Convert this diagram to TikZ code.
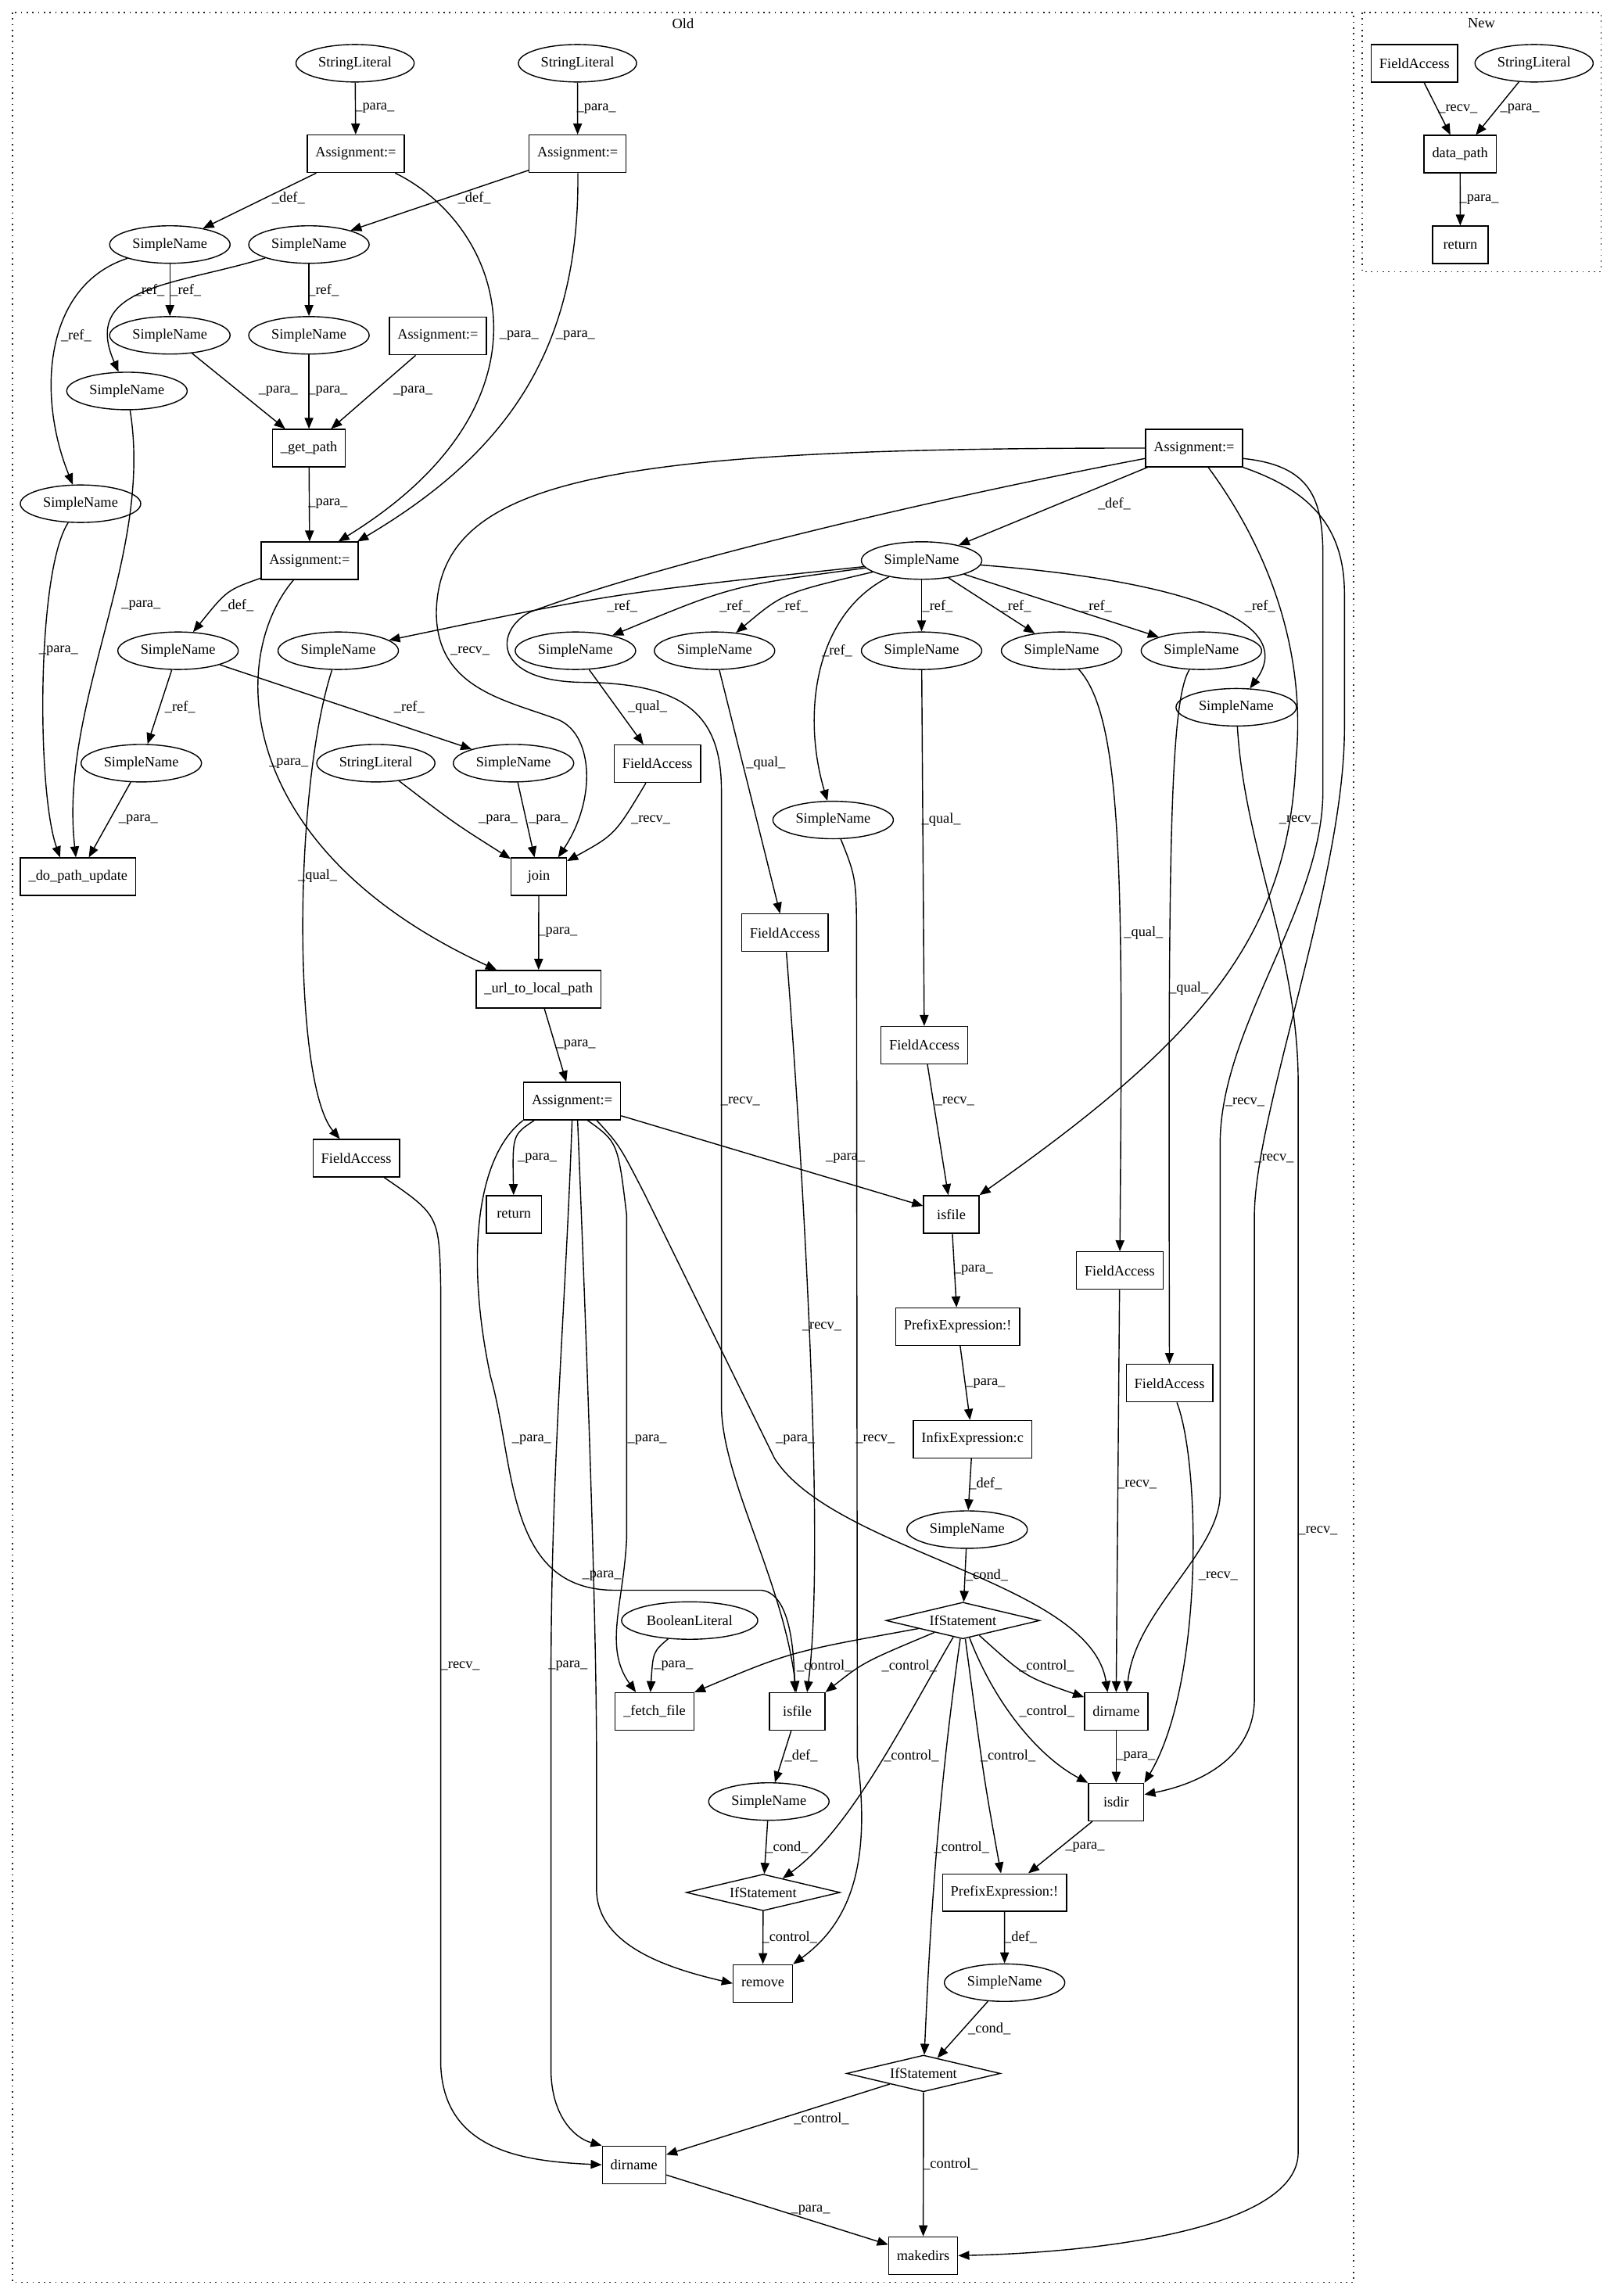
\documentclass[tikz,border=0pt]{standalone}
\usepackage{fontspec}
\setmainfont{Liberation Serif}
\usetikzlibrary{arrows.meta,shapes.geometric}
\newcommand\Lpara{\_para\_}
\newcommand\Lref{\_ref\_}
\newcommand\Ldef{\_def\_}
\newcommand\Lqual{\_qual\_}
\newcommand\Lrecv{\_recv\_}
\newcommand\Lcond{\_cond\_}
\newcommand\Lctrl{\_control\_}
\newcommand\elab[3]{\node[lbl] (#1) at (#2) {#3};}
\begin{document}
\begin{tikzpicture}[x=1pt,y=-1pt,
  font=\fontsize{9.8}{11.8}\selectfont,
  box/.style={draw, rectangle, line width=0.75pt, minimum height=25.6pt, minimum width=37.8pt, inner xsep=5.6pt, inner ysep=0pt},
  ell/.style={draw, ellipse, line width=0.75pt, minimum height=25.6pt, inner xsep=3.5pt, inner ysep=0pt},
  dia/.style={draw, diamond, aspect=4.2, line width=0.75pt, inner sep=0pt, minimum width=105pt, minimum height=25pt},
  arr/.style={draw, line width=0.75pt, -{Triangle[length=7.5pt,width=6pt]}},
  lbl/.style={inner sep=0pt},
  clus/.style={draw=black!85, line width=0.9pt, dash pattern=on 0.9pt off 3pt}]
\useasboundingbox (0,0) rectangle (1102,1568);
\fill[white] (0,0) rectangle (1102,1568);
% clusters
\draw[clus] (8.5,8.5) rectangle (924.5,1558.7);
\draw[clus] (930.2,8.5) rectangle (1093.4,185.6);
\node[lbl] (oldlab) at (466.5,16) {Old};
\node[lbl] (newlab) at (1011.8,16) {New};
% ---------- Old nodes
\node[ell] (sl1) at (242.5,43.2) {StringLiteral};
\node[ell] (sl2) at (394.4,43.2) {StringLiteral};
\node[box] (a1) at (243,105) {Assignment:=};
\node[box] (a2) at (394.5,105) {Assignment:=};
\node[ell] (s1) at (116,167) {SimpleName};
\node[ell] (s2) at (211,167) {SimpleName};
\node[ell] (s3) at (116,229) {SimpleName};
\node[ell] (s4) at (211,229) {SimpleName};
\node[box] (a3) at (299,229.5) {Assignment:=};
\node[ell] (s5) at (86.7,267) {SimpleName};
\node[ell] (s6) at (55,344) {SimpleName};
\node[box] (gp) at (211,306) {\_get\_path};
\node[box] (a4) at (211.5,383) {Assignment:=};
\node[box] (a5) at (815.5,306) {Assignment:=};
\node[ell] (sn) at (629.4,382.8) {SimpleName};
\node[ell] (s7) at (121.6,444.4) {SimpleName};
\node[ell] (sb) at (231,444.4) {SimpleName};
\node[ell] (sa) at (393,444.4) {SimpleName};
\node[ell] (sc) at (488,444.4) {SimpleName};
\node[ell] (sd) at (629.4,444.4) {SimpleName};
\node[ell] (se) at (725,444.4) {SimpleName};
\node[ell] (sg) at (820.5,444.4) {SimpleName};
\node[ell] (sh) at (844.3,483) {SimpleName};
\node[ell] (sf) at (569,560) {SimpleName};
\node[ell] (s8) at (96.5,521.2) {SimpleName};
\node[ell] (s9) at (350.7,521.2) {SimpleName};
\node[ell] (sl3) at (256.7,521.2) {StringLiteral};
\node[box] (f1) at (449,521.6) {FieldAccess};
\node[box] (dpu) at (53.3,598.7) {\_do\_path\_update};
\node[box] (join) at (368,598.7) {join};
\node[box] (f2) at (536,637) {FieldAccess};
\node[box] (url) at (367.8,675.5) {\_url\_to\_local\_path};
\node[box] (f3) at (631.3,713.8) {FieldAccess};
\node[box] (a6) at (390.7,752) {Assignment:=};
\node[box] (f4) at (243.3,791) {FieldAccess};
\node[box] (ret) at (351,829.3) {return};
\node[box] (i1) at (649.7,829.3) {isfile};
\node[box] (f5) at (764.7,867.7) {FieldAccess};
\node[box] (p1) at (654,906) {PrefixExpression:!};
\node[box] (f6) at (798.7,944.6) {FieldAccess};
\node[box] (inf) at (664.2,982.9) {InfixExpression:c};
\node[ell] (sn2) at (660.5,1044.6) {SimpleName};
\node[dia] (if1) at (657.6,1106.7) {IfStatement};
\node[ell] (bl) at (471,1106.7) {BooleanLiteral};
\node[box] (ff) at (447,1168.8) {\_fetch\_file};
\node[box] (i2) at (544.5,1168.8) {isfile};
\node[box] (d1) at (762.3,1168.8) {dirname};
\node[box] (isdir) at (762.3,1230.7) {isdir};
\node[ell] (sn3) at (525.1,1230.3) {SimpleName};
\node[dia] (if2) at (521.2,1292.4) {IfStatement};
\node[box] (p2) at (686,1292.5) {PrefixExpression:!};
\node[box] (rem) at (521,1354.5) {remove};
\node[ell] (sn4) at (686.1,1354) {SimpleName};
\node[dia] (if3) at (630.7,1416) {IfStatement};
\node[box] (d2) at (433,1478.4) {dirname};
\node[box] (mk) at (630.5,1540.4) {makedirs};
% ---------- New nodes
\node[box] (nfa) at (966,43.3) {FieldAccess};
\node[ell] (nsl) at (1047.7,43.2) {StringLiteral};
\node[box] (dp) at (997.2,105.3) {data\_path};
\node[box] (nret) at (997.3,167.2) {return};
% ---------- Old edges
\draw[arr] (sl1) -- (a1);
\draw[arr] (sl2) -- (a2);
\draw[arr] (a1) -- (s1);
\draw[arr] (a2) -- (s2);
\draw[arr] (a1) .. controls (345,155) and (385,275) .. (a4.34);
\draw[arr] (a2) .. controls (396,240) and (345,310) .. (a4.22);
\draw[arr] (s1) -- (s3);
\draw[arr] (s2) .. controls (120,195) and (55,195) .. (s5);
\draw[arr] (s1) .. controls (30,195) and (25,270) .. (s6);
\draw[arr] (s2) -- (s4);
\draw[arr] (s3) -- (gp);
\draw[arr] (s4) -- (gp);
\draw[arr] (a3) -- (gp);
\draw[arr] (gp) -- (a4);
\draw[arr] (a4) .. controls (155,403) .. (s7);
\draw[arr] (a4) .. controls (155,450) and (160,580) .. (url);
\draw[arr] (s7) -- (s8);
\draw[arr] (s7) -- (s9);
\draw[arr] (s5) .. controls (105,380) and (40,480) .. (dpu);
\draw[arr] (s6) .. controls (25,390) and (25,540) .. (dpu.133);
\draw[arr] (s8) -- (dpu);
\draw[arr] (sl3) .. controls (310,562) .. (join);
\draw[arr] (s9) -- (join);
\draw[arr] (a5.west) .. controls (420,306) and (300,325) .. (298,418)
   .. controls (298,470) and (345,478) .. (380,491)
   .. controls (405,500) and (408,545) .. (join.45);
\draw[arr] (f1) .. controls (420,570) .. (join);
\draw[arr] (join) -- (url);
\draw[arr] (url) -- (a6);
\draw[arr] (a5) -- (sn);
\draw[arr] (sn) .. controls (420,405) .. (sb);
\draw[arr] (sn) .. controls (500,400) .. (sa);
\draw[arr] (sn) .. controls (535,405) .. (sc);
\draw[arr] (sn) .. controls (555,420) and (548,490) .. (sf);
\draw[arr] (sn) -- (sd);
\draw[arr] (sn) -- (se);
\draw[arr] (sn) -- (sg);
\draw[arr] (sn) .. controls (790,395) and (890,420) .. (sh);
\draw[arr] (sa) -- (f1);
\draw[arr] (sb) .. controls (200,540) and (200,740) .. (f4);
\draw[arr] (sc) -- (f2);
\draw[arr] (sd) -- (f3);
\draw[arr] (se) .. controls (767,490) and (767,600) .. (f5);
\draw[arr] (sg) .. controls (798,480) and (798,600) .. (f6);
\draw[arr] (f2) .. controls (545,750) and (565,1050) .. (i2.63);
\draw[arr] (f3) -- (i1);
\draw[arr] (f4) .. controls (300,830) .. (301,880) -- (301,1410) .. controls (303,1470) and (360,1476) .. (d2.west);
\draw[arr] (f5) -- (d1.north);
\draw[arr] (f6) .. controls (820,1000) and (822,1150) .. (isdir.north east);
\draw[arr] (a5) .. controls (870,380) and (892,450) .. (885,520) .. controls (880,640) and (820,710) .. (i1.north east);
\draw[arr] (a5.-12) .. controls (895,318) and (903.5,340) .. (903.5,380) -- (903.5,540)
   .. controls (903.5,620) and (834,700) .. (833.3,780) -- (833.3,1020)
   .. controls (833.3,1060) and (775,1100) .. (d1.61);
\draw[arr] (a5.south east) .. controls (895,335) and (918,360) .. (918.2,405) -- (918.2,498)
   .. controls (918,600) and (857,760) .. (856.7,830) -- (856.7,1160)
   .. controls (856.7,1200) and (820,1218) .. (isdir.15);
\draw[arr] (sh) .. controls (850,580) and (886.6,650) .. (886.6,740) -- (886.6,1470)
   .. controls (886.6,1520) and (760,1538) .. (mk.east);
\draw[arr] (a5.192) .. controls (640,340) and (450,385) .. (362,418)
   .. controls (338,430) and (335,466) .. (400,466)
   .. controls (470,467) and (492.7,490) .. (492.7,540) -- (492.7,960)
   .. controls (493,1010) and (535,1080) .. (i2.93);
\draw[arr] (i1) -- (p1);
\draw[arr] (p1) -- (inf);
\draw[arr] (inf) -- (sn2);
\draw[arr] (sn2) -- (if1);
\draw[arr] (a6.207) .. controls (350,775) .. (ret);
\draw[arr] (a6) -- (i1);
\draw[arr] (a6.south west) .. controls (325,790) and (318,860) .. (335,940)
   .. controls (352,1000) and (345,1086) .. (420,1086) -- (520,1086)
   .. controls (538,1088) and (542,1120) .. (i2.97);
\draw[arr] (a6.-51) .. controls (422,780) .. (428,830) -- (428,1050)
   .. controls (426,1095) and (412,1125) .. (ff.134);
\draw[arr] (a6.-74) .. controls (400,900) and (407.4,1100) .. (407.4,1200) -- (407.4,1290)
   .. controls (407.4,1330) and (460,1345) .. (rem.west);
\draw[arr] (a6.-38) .. controls (423,782) .. (440,815) -- (529,996)
   .. controls (570,1060) and (745,1080) .. (d1.114);
\draw[arr] (a6.south) .. controls (386,900) and (376.3,1000) .. (376.3,1150) -- (376.3,1415)
   .. controls (377,1445) and (392,1460) .. (d2.north west);
\draw[arr] (bl) .. controls (446,1128) .. (ff.102);
\draw[arr] (if1) .. controls (540,1128) .. (ff.north east);
\draw[arr] (if1) .. controls (590,1135) .. (i2.north east);
\draw[arr] (if1) .. controls (700,1145) .. (d1.156);
\draw[arr] (if1) .. controls (680,1165) and (710,1200) .. (isdir.north west);
\draw[arr] (if1) .. controls (615,1180) and (580,1250) .. (if2);
\draw[arr] (if1) .. controls (640,1230) and (635,1320) .. (if3);
\draw[arr] (if1) .. controls (672,1215) .. (p2);
\draw[arr] (d1) -- (isdir);
\draw[arr] (i2) -- (sn3);
\draw[arr] (sn3) -- (if2);
\draw[arr] (if2) -- (rem);
\draw[arr] (sf) .. controls (585,600) .. (585,650) -- (585.5,1200)
   .. controls (594,1265) and (585,1310) .. (rem.north east);
\draw[arr] (isdir) -- (p2);
\draw[arr] (p2) -- (sn4);
\draw[arr] (sn4) -- (if3);
\draw[arr] (if3) -- (d2);
\draw[arr] (if3) -- (mk);
\draw[arr] (d2) -- (mk);
% ---------- New edges
\draw[arr] (nfa) -- (dp);
\draw[arr] (nsl) -- (dp);
\draw[arr] (dp) -- (nret);
% ---------- labels
\elab{e1}{256,74}{\Lpara}
\elab{e2}{407.3,74.3}{\Lpara}
\elab{e3}{197,135}{\Ldef}
\elab{e4}{324,135}{\Ldef}
\elab{e5}{354.5,229}{\Lpara}
\elab{e6}{393,229}{\Lpara}
\elab{e7}{127,198}{\Lref}
\elab{e8}{102,198}{\Lref}
\elab{e9}{52,229}{\Lref}
\elab{e10}{221,198}{\Lref}
\elab{e11}{190,267}{\Lpara}
\elab{e12}{224,267}{\Lpara}
\elab{e13}{282,267}{\Lpara}
\elab{e14}{224,344}{\Lpara}
\elab{e15}{162,413.3}{\Ldef}
\elab{e16}{197.2,521.2}{\Lpara}
\elab{e17}{123,483}{\Lref}
\elab{e18}{279.5,483}{\Lref}
\elab{e19}{96.3,413.3}{\Lpara}
\elab{e20}{40,444.4}{\Lpara}
\elab{e21}{94.5,560}{\Lpara}
\elab{e22}{340.3,560}{\Lpara}
\elab{e23}{374.5,560}{\Lpara}
\elab{e24}{321,444.4}{\Lrecv}
\elab{e25}{444.4,560}{\Lrecv}
\elab{e26}{381,636.9}{\Lpara}
\elab{e27}{393.4,713.5}{\Lpara}
\elab{e28}{761,344.2}{\Ldef}
\elab{e29}{425,413.8}{\Lref}
\elab{e30}{501.8,413.8}{\Lref}
\elab{e31}{541.4,413.8}{\Lref}
\elab{e32}{571.7,444.4}{\Lref}
\elab{e33}{640.3,413.8}{\Lref}
\elab{e34}{693.8,413.8}{\Lref}
\elab{e35}{749,413.8}{\Lref}
\elab{e36}{860.5,413.8}{\Lref}
\elab{e37}{442.3,483}{\Lqual}
\elab{e38}{216.9,598.3}{\Lqual}
\elab{e39}{523,521.2}{\Lqual}
\elab{e40}{642.8,560}{\Lqual}
\elab{e41}{781,637}{\Lqual}
\elab{e42}{811.9,675.2}{\Lqual}
\elab{e43}{561.3,905.9}{\Lrecv}
\elab{e44}{652,752}{\Lrecv}
\elab{e45}{314.4,1137.5}{\Lrecv}
\elab{e46}{776.6,1014}{\Lrecv}
\elab{e47}{832,1076.2}{\Lrecv}
\elab{e48}{887,560}{\Lrecv}
\elab{e49}{850.2,752.7}{\Lrecv}
\elab{e50}{870.2,791}{\Lrecv}
\elab{e51}{900.1,1045.1}{\Lrecv}
\elab{e52}{597.8,983}{\Lrecv}
\elab{e53}{505.7,752}{\Lrecv}
\elab{e54}{664.8,867.3}{\Lpara}
\elab{e55}{673.1,944.7}{\Lpara}
\elab{e56}{673.1,1013.3}{\Ldef}
\elab{e57}{674,1075.7}{\Lcond}
\elab{e58}{367,791}{\Lpara}
\elab{e59}{577.4,791}{\Lpara}
\elab{e60}{363.1,983}{\Lpara}
\elab{e61}{442,983}{\Lpara}
\elab{e62}{411,1076}{\Lpara}
\elab{e63}{543.2,983}{\Lpara}
\elab{e64}{387.9,1137.5}{\Lpara}
\elab{e65}{460,1137.5}{\Lpara}
\elab{e66}{563,1137.5}{\Lctrl}
\elab{e67}{621,1137.5}{\Lctrl}
\elab{e68}{714.8,1137.5}{\Lctrl}
\elab{e69}{715,1168.5}{\Lctrl}
\elab{e70}{622.4,1199.3}{\Lctrl}
\elab{e71}{656.8,1261.4}{\Lctrl}
\elab{e72}{688.4,1199.3}{\Lctrl}
\elab{e73}{775.6,1199.3}{\Lpara}
\elab{e74}{547.2,1199.3}{\Ldef}
\elab{e75}{537.5,1261.4}{\Lcond}
\elab{e76}{539.3,1323.2}{\Lctrl}
\elab{e77}{741,1261.4}{\Lpara}
\elab{e78}{697,1323.2}{\Ldef}
\elab{e79}{675.7,1385.3}{\Lcond}
\elab{e80}{561,1446.8}{\Lctrl}
\elab{e81}{649.1,1478.1}{\Lctrl}
\elab{e82}{553.6,1509.2}{\Lpara}
\elab{e83}{995.7,74.3}{\Lrecv}
\elab{e84}{1038,74.3}{\Lpara}
\elab{e85}{1010.2,136.4}{\Lpara}
\end{tikzpicture}
\end{document}
